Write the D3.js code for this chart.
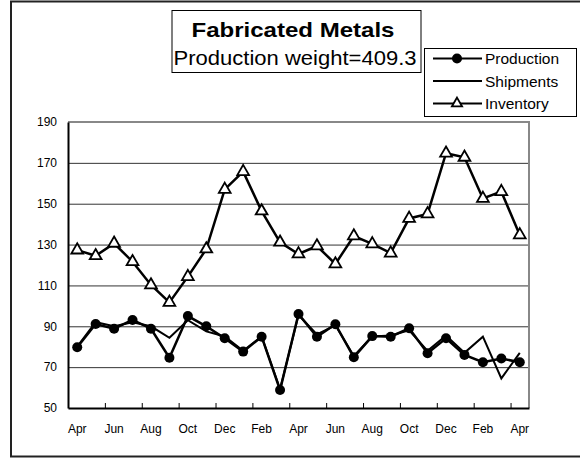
<!DOCTYPE html>
<html>
<head>
<meta charset="utf-8">
<script src="https://cdn.jsdelivr.net/npm/d3@7"></script>
<style>
  body { margin: 0; background: #fff; }
  svg { font-family: "Liberation Sans", Arial, sans-serif; }
</style>
</head>
<body>
<div id="chart"></div>
<script>
const width = 580;
const height = 459;
const margin = {top: 122, left: 68, bottom: 51, right: 51};

// month labels, Apr of year 1 through Apr of year 3
const months = ['Apr','May','Jun','Jul','Aug','Sep','Oct','Nov','Dec','Jan','Feb','Mar',
                'Apr','May','Jun','Jul','Aug','Sep','Oct','Nov','Dec','Jan','Feb','Mar','Apr'];
const production = [79.7, 91.1, 88.8, 93.1, 88.8, 74.6, 95.0, 90.0, 84.1, 77.6, 84.9, 58.8,
                    96.0, 84.9, 91.0, 74.8, 85.2, 84.9, 89.0, 76.8, 84.1, 76.0, 72.4, 74.2, 72.4];
const shipments = [80.0, 92.0, 90.0, 92.0, 90.0, 84.4, 93.0, 87.5, 85.0, 78.0, 85.0, 59.2,
                   95.5, 86.0, 90.5, 75.5, 85.0, 85.5, 88.0, 78.0, 85.5, 77.0, 84.9, 64.5, 77.0];
const inventory = [127.3, 124.5, 130.6, 121.6, 110.2, 101.7, 114.3, 127.8, 157.0, 165.7, 146.4, 131.1,
                   125.4, 129.3, 120.5, 134.2, 130.3, 125.8, 142.8, 145.0, 174.7, 172.7, 152.6, 155.9, 134.7];
const yTicks = [50, 70, 90, 110, 130, 150, 170, 190];

const svg = d3.select('#chart').append('svg')
  .attr('width', width).attr('height', height);

// outer frame (runs off the right edge like the original)
svg.append('rect')
  .attr('x', 11).attr('y', 1.5).attr('width', 600).attr('height', 455)
  .attr('fill', 'none').attr('stroke', '#222').attr('stroke-width', 2);

const x = d3.scaleBand()
  .domain(d3.range(months.length))
  .range([margin.left, width - margin.right]);
const xEdge = d3.scaleLinear()
  .domain([0, months.length])
  .range([margin.left, width - margin.right]);
const y = d3.scaleLinear()
  .domain([50, 190])
  .range([height - margin.bottom, margin.top]);
const cx = i => x(i) + x.bandwidth() / 2;

// grid lines
svg.append('g')
  .attr('transform', `translate(${margin.left},0)`)
  .call(d3.axisLeft(y).tickValues(yTicks.slice(1, -1)).tickSize(-(width - margin.left - margin.right)).tickFormat(''))
  .call(g => g.select('.domain').remove())
  .call(g => g.selectAll('line').attr('stroke', '#333').attr('stroke-width', 1));

// plot frame: gray top/right
svg.append('path')
  .attr('d', `M${margin.left},${y(190)}H${width - margin.right}V${y(50)}`)
  .attr('fill', 'none').attr('stroke', '#888').attr('stroke-width', 2);

// y axis
svg.append('g')
  .attr('transform', `translate(${margin.left},0)`)
  .call(d3.axisLeft(y).tickValues(yTicks).tickSize(0).tickPadding(11))
  .call(g => g.select('.domain').attr('stroke', '#000').attr('stroke-width', 2))
  .call(g => g.selectAll('text').attr('font-size', 12).attr('fill', '#000')
    .attr('font-family', '"Liberation Sans", Arial, sans-serif'));

// x axis ticks at band edges every two months
svg.append('g')
  .attr('transform', `translate(0,${y(50)})`)
  .call(d3.axisBottom(xEdge).tickValues(d3.range(2, months.length, 2)).tickSize(-5).tickFormat('').tickSizeOuter(0))
  .call(g => g.select('.domain').attr('stroke', '#000').attr('stroke-width', 2))
  .call(g => g.selectAll('line').attr('stroke', '#000').attr('stroke-width', 1));

// x labels every other month
svg.append('g')
  .selectAll('text').data(months.map((m, i) => ({m, i})).filter(d => d.i % 2 === 0))
  .enter().append('text')
  .attr('x', d => cx(d.i))
  .attr('y', y(50) + 25)
  .attr('text-anchor', 'middle')
  .attr('font-size', 12)
  .text(d => d.m);

const line = d3.line().x((d, i) => cx(i)).y(d => y(d));

svg.append('path').datum(shipments)
  .attr('d', line).attr('fill', 'none').attr('stroke', '#000').attr('stroke-width', 2);
svg.append('path').datum(production)
  .attr('d', line).attr('fill', 'none').attr('stroke', '#000').attr('stroke-width', 2.5);
svg.append('path').datum(inventory)
  .attr('d', line).attr('fill', 'none').attr('stroke', '#000').attr('stroke-width', 2.5);

svg.append('g')
  .selectAll('circle').data(production).enter().append('circle')
  .attr('cx', (d, i) => cx(i)).attr('cy', d => y(d)).attr('r', 5)
  .attr('fill', '#000');

const tri = d3.symbol().type(d3.symbolTriangle).size(60);
svg.append('g')
  .selectAll('path').data(inventory).enter().append('path')
  .attr('d', tri)
  .attr('transform', (d, i) => `translate(${cx(i)},${y(d)})`)
  .attr('fill', '#fff').attr('stroke', '#000').attr('stroke-width', 1.8);

// title box
const tb = svg.append('g');
tb.append('rect').attr('x', 172).attr('y', 10.5).attr('width', 249).attr('height', 62)
  .attr('fill', '#fff').attr('stroke', '#000').attr('stroke-width', 1);
tb.append('text').attr('x', 293).attr('y', 37).attr('text-anchor', 'middle')
  .attr('font-size', 21).attr('font-weight', 'bold')
  .attr('textLength', 203).attr('lengthAdjust', 'spacingAndGlyphs').text('Fabricated Metals');
tb.append('text').attr('x', 295).attr('y', 65).attr('text-anchor', 'middle')
  .attr('font-size', 19.5)
  .attr('textLength', 243).attr('lengthAdjust', 'spacingAndGlyphs').text('Production weight=409.3');

// legend
const legendItems = [
  {name: 'Production', marker: 'circle'},
  {name: 'Shipments', marker: 'none'},
  {name: 'Inventory', marker: 'triangle'}
];
const lg = svg.append('g');
lg.append('rect').attr('x', 424.5).attr('y', 48.5).attr('width', 152).attr('height', 68)
  .attr('fill', '#fff').attr('stroke', '#000').attr('stroke-width', 1);
const row = lg.selectAll('g').data(legendItems).enter().append('g')
  .attr('transform', (d, i) => `translate(0,${58.5 + i * 22.5})`);
row.append('line').attr('x1', 433).attr('x2', 482).attr('stroke', '#000').attr('stroke-width', 2);
row.filter(d => d.marker === 'circle').append('circle').attr('cx', 457).attr('r', 5).attr('fill', '#000');
row.filter(d => d.marker === 'triangle').append('path').attr('d', d3.symbol().type(d3.symbolTriangle).size(45))
  .attr('transform', 'translate(457,0)').attr('fill', '#fff').attr('stroke', '#000').attr('stroke-width', 1.8);
row.append('text').attr('x', 485).attr('y', 5.5).attr('font-size', 15.5).text(d => d.name);
</script>
</body>
</html>
